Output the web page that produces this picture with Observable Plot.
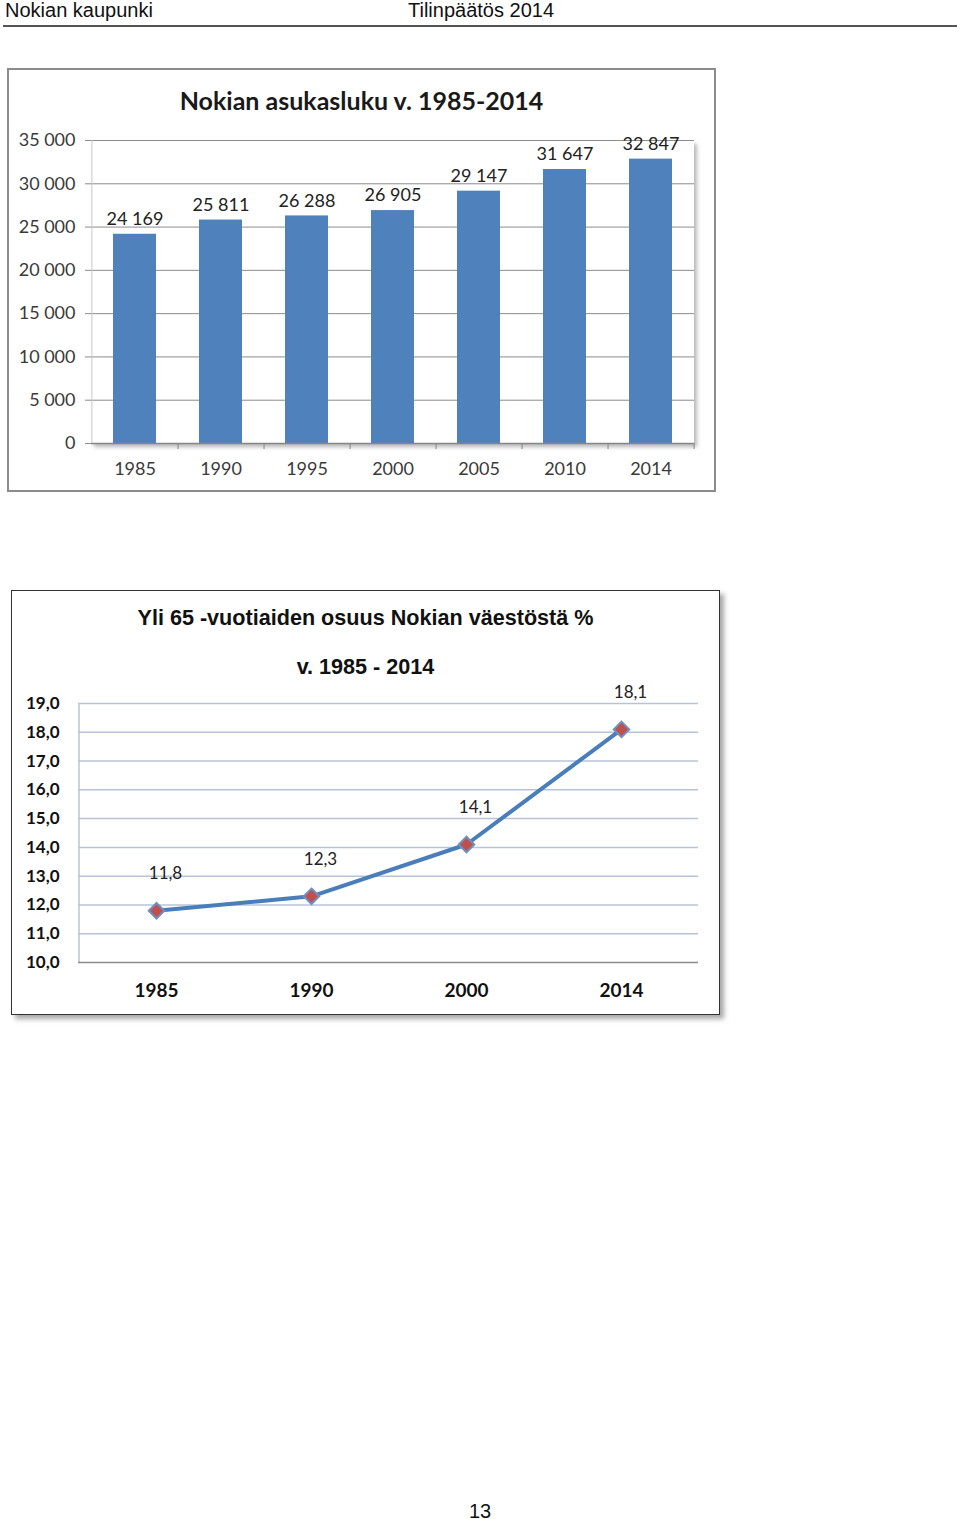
<!DOCTYPE html>
<html>
<head>
<meta charset="utf-8">
<script src="https://cdn.jsdelivr.net/npm/d3@7"></script>
<script src="https://cdn.jsdelivr.net/npm/@observablehq/plot@0.6"></script>
<style>
  html, body { margin: 0; padding: 0; background: #fff; }
  body { position: relative; width: 960px; height: 1519px; overflow: hidden; font-family: "Liberation Sans", Arial, sans-serif; }
  .abs { position: absolute; }
  .hdr { font-size: 20px; color: #111; top: -1px; line-height: 22px; }
  .hline { left: 3px; top: 25px; width: 954px; height: 2px; background: #555; }
  #box1 { left: 7px; top: 68px; width: 709px; height: 424px; border: 2px solid #8c8c8c; box-sizing: border-box; }
  #area1 { left: 91px; top: 140px; width: 603px; height: 303px; background: #fff; box-shadow: 3px 4px 4px rgba(0,0,0,0.28); }
  #title1 { left: 7px; width: 709px; top: 85px; text-align: center; font-family: Lato, sans-serif; font-weight: bold; font-size: 25px; color: #1a1a1a; line-height: 30px; }
  #box2 { left: 11px; top: 590px; width: 709px; height: 425px; border: 1.5px solid #333; box-sizing: border-box; box-shadow: 4px 4px 5px rgba(0,0,0,0.35); }
  .t2 { left: 11px; width: 709px; text-align: center; font-weight: bold; font-size: 21.6px; color: #111; line-height: 24px; }
  #plot1, #plot2 { left: 0; }
  #plot1 { top: 130px; }
  #plot2 { top: 690px; }
  #page { left: 0; width: 960px; top: 1500px; text-align: center; font-size: 20px; color: #111; line-height: 22px; }
</style>
</head>
<body>
<div class="abs hdr" style="left:5px">Nokian kaupunki</div>
<div class="abs hdr" style="left:408px">Tilinpäätös 2014</div>
<div class="abs hline"></div>

<div class="abs" id="box1"></div>
<div class="abs" id="area1"></div>
<div class="abs" id="title1">Nokian asukasluku v. 1985-2014</div>
<div class="abs" id="plot1"></div>

<div class="abs" id="box2"></div>
<div class="abs t2" style="top:606px">Yli 65 -vuotiaiden osuus Nokian väestöstä %</div>
<div class="abs t2" style="top:655px">v. 1985 - 2014</div>
<div class="abs" id="plot2"></div>

<div class="abs" id="page">13</div>

<script>
// ---- Data: chart 1 (population) ----
const popYears = ["1985", "1990", "1995", "2000", "2005", "2010", "2014"];
const population = [24169, 25811, 26288, 26905, 29147, 31647, 32847];
const popTicks = [0, 5000, 10000, 15000, 20000, 25000, 30000, 35000];

// ---- Data: chart 2 (share of over-65s, %) ----
const elderYears = ["1985", "1990", "2000", "2014"];
const elderShare = [11.8, 12.3, 14.1, 18.1];
const elderTicks = [10, 11, 12, 13, 14, 15, 16, 17, 18, 19];

const fiLocale = d3.formatLocale({decimal: ",", thousands: " ", grouping: [3], currency: ["", " €"]});
const fmtInt = fiLocale.format(",d");
const fmtDec = (v) => v.toFixed(1).replace(".", ",");

const popData = popYears.map((year, i) => ({year, pop: population[i]}));
const elderData = elderYears.map((year, i) => ({year, share: elderShare[i]}));

// ---- Chart 1 ----
const W1 = 720, H1 = 360;
const step1 = (W1 - 91 - 26) / popYears.length;
const plot1 = Plot.plot({
  width: W1, height: H1,
  marginLeft: 91, marginRight: 26, marginTop: 10, marginBottom: 47,
  style: {fontFamily: "Lato, sans-serif", background: "transparent", overflow: "visible"},
  x: {type: "band", domain: popYears, paddingInner: 0.5, paddingOuter: 0.25, axis: null},
  y: {domain: [0, 35000], axis: null},
  marks: [
    Plot.ruleY(popTicks.slice(1), {stroke: "#8c8c8c", strokeWidth: 1}),
    Plot.axisY({ticks: popTicks, tickFormat: fmtInt, tickSize: 6, tickPadding: 10, fontSize: 18, fill: "#3a3a3a", stroke: "#8c8c8c", label: null}),
    Plot.barY(popData, {x: "year", y: "pop", fill: "#4f81bd"}),
    Plot.ruleX([popYears[0]], {dx: -step1 / 2, y1: 0, y2: 35000, stroke: "#c8c8c8"}),
    Plot.ruleY([0], {stroke: "#868686", strokeWidth: 1.5}),
    Plot.ruleX(popYears, {dx: step1 / 2, y1: 0, y2: -700, stroke: "#868686"}),
    Plot.axisX({tickSize: 0, tickPadding: 19, fontSize: 18, fill: "#3a3a3a", label: null}),
    Plot.text(popData, {x: "year", y: "pop", text: (d) => fmtInt(d.pop), dy: -15, fontSize: 18, fill: "#222"})
  ]
});
document.getElementById("plot1").appendChild(plot1);

// ---- Chart 2 ----
const W2 = 720, H2 = 320;
const step2 = (W2 - 78 - 22) / elderYears.length;
const plot2 = Plot.plot({
  width: W2, height: H2,
  marginLeft: 78, marginRight: 22, marginTop: 13, marginBottom: 48,
  style: {fontFamily: "Lato, sans-serif", background: "transparent", overflow: "visible"},
  x: {type: "point", domain: elderYears, padding: 0.5, axis: null},
  y: {domain: [10, 19], axis: null},
  marks: [
    Plot.ruleY(elderTicks.slice(1), {stroke: "#b7c4d8", strokeWidth: 1.5}),
    Plot.ruleX([elderYears[0]], {dx: -step2 / 2, y1: 10, y2: 19, stroke: "#b7c4d8", strokeWidth: 1.5}),
    Plot.ruleY([10], {stroke: "#8a8a8a", strokeWidth: 1.5}),
    Plot.axisY({ticks: elderTicks, tickFormat: fmtDec, tickSize: 0, tickPadding: 19, fontSize: 17, fontWeight: "bold", fill: "#111", label: null}),
    Plot.axisX({tickSize: 0, tickPadding: 21, fontSize: 19, fontWeight: "bold", fill: "#111", label: null}),
    Plot.line(elderData, {x: "year", y: "share", stroke: "#4a7ebb", strokeWidth: 4}),
    Plot.dot(elderData, {x: "year", y: "share", symbol: "diamond2", r: 7, fill: "#c0504d", stroke: "#6f8fc0", strokeWidth: 2}),
    Plot.text(elderData, {x: "year", y: "share", text: (d) => fmtDec(d.share), dx: 9, dy: -37, fontSize: 17, fill: "#222"})
  ]
});
document.getElementById("plot2").appendChild(plot2);
</script>
</body>
</html>
